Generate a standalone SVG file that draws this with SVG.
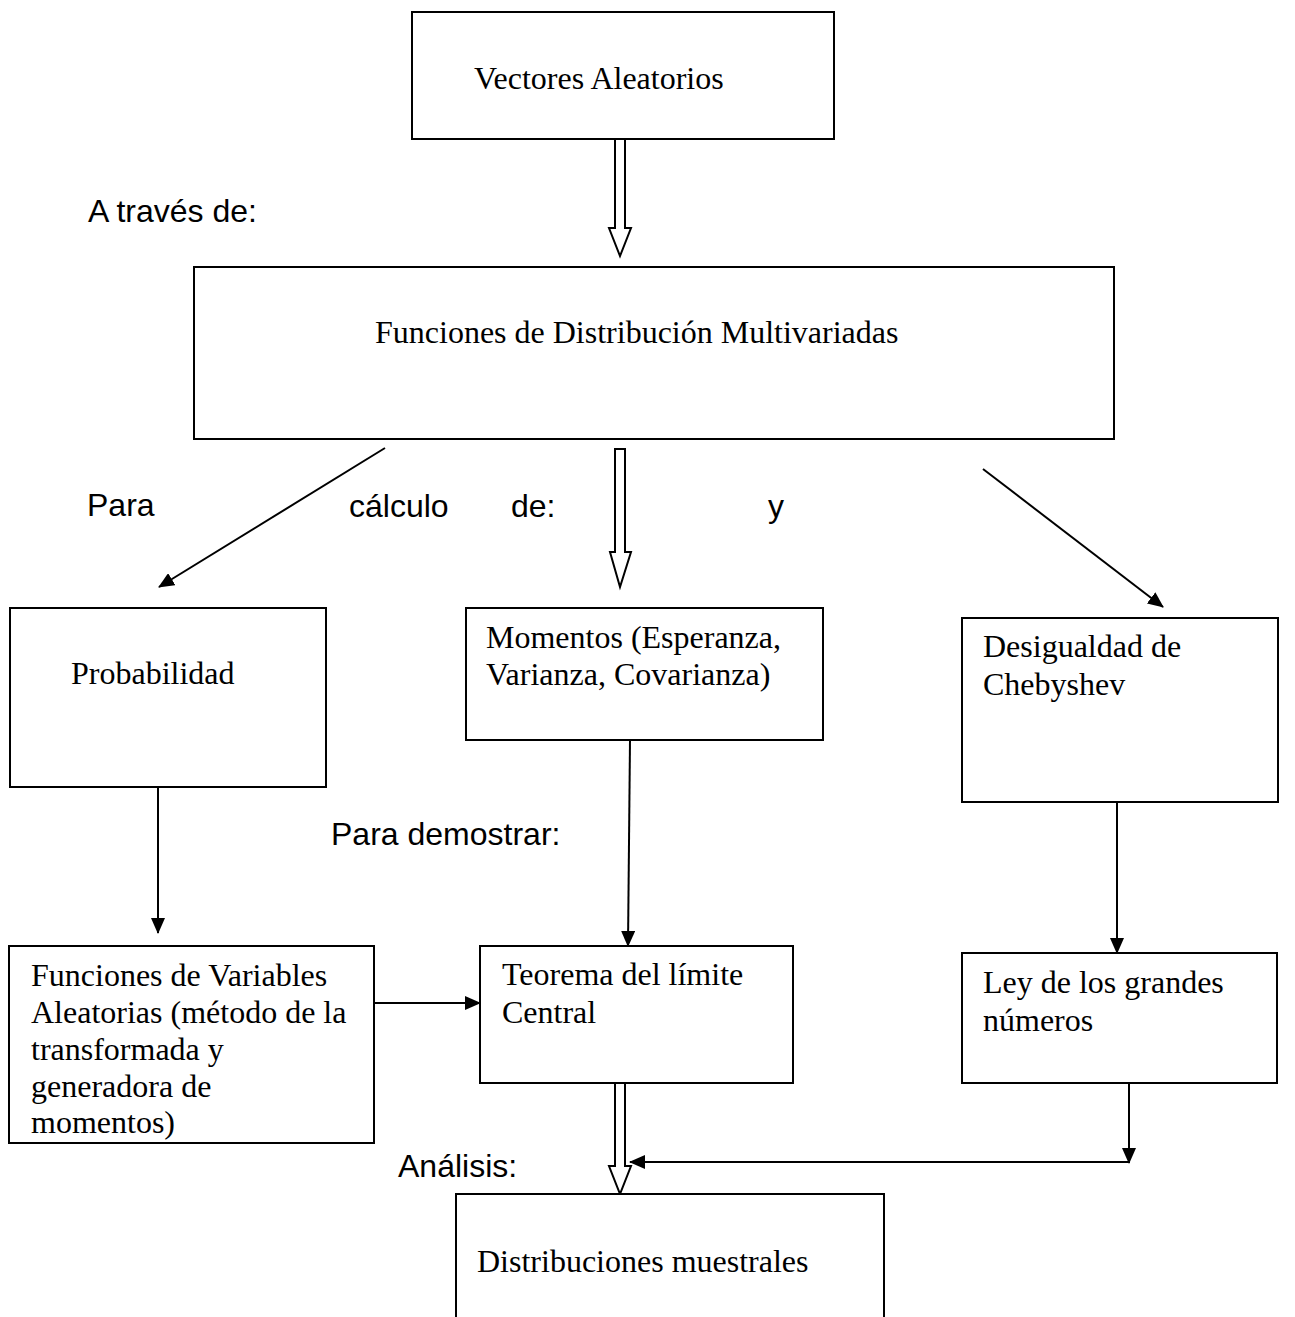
<svg xmlns="http://www.w3.org/2000/svg" width="1295" height="1317" viewBox="0 0 1295 1317">
<style>
.box{fill:#fff;stroke:#000;stroke-width:2}
.t{font-family:"Liberation Serif","Times New Roman",serif;font-size:32px;fill:#000}
.l{font-family:"Liberation Sans",Arial,sans-serif;font-size:32px;fill:#000}
.c{stroke:#000;stroke-width:2;fill:none}
.h{fill:#fff;stroke:#000;stroke-width:2;stroke-linejoin:miter}
</style>
<defs>
<marker id="ah" markerWidth="16" markerHeight="14" refX="15" refY="7" orient="auto" markerUnits="userSpaceOnUse">
<path d="M0,0 L16,7 L0,14 Z" fill="#000"/>
</marker>
</defs>
<rect width="1295" height="1317" fill="#fff"/>

<g id="labels">
<text class="l" x="88" y="222">A través de:</text>
<text class="l" x="87" y="516">Para</text>
<text class="l" x="349" y="517">cálculo</text>
<text class="l" x="511" y="517">de:</text>
<text class="l" x="768" y="517">y</text>
<text class="l" x="331" y="845">Para demostrar:</text>
<text class="l" x="398" y="1177">Análisis:</text>
</g>

<g id="connectors">
<path class="h" d="M615,139 V228 H609 L620,256 L631,228 H625 V139 Z"/>
<path class="h" d="M615,449 V552 H610 L620,587 L631,552 H625 V449 Z"/>
<path class="h" d="M615,1083 V1166 H609 L620,1194 L631,1166 H625 V1083 Z"/>
<line class="c" x1="385" y1="448" x2="159" y2="587" marker-end="url(#ah)"/>
<line class="c" x1="983" y1="469" x2="1163" y2="607" marker-end="url(#ah)"/>
<line class="c" x1="158" y1="787" x2="158" y2="933" marker-end="url(#ah)"/>
<line class="c" x1="630" y1="740" x2="628" y2="946" marker-end="url(#ah)"/>
<line class="c" x1="1117" y1="802" x2="1117" y2="953" marker-end="url(#ah)"/>
<line class="c" x1="374" y1="1003" x2="480" y2="1003" marker-end="url(#ah)"/>
<line class="c" x1="1129" y1="1083" x2="1129" y2="1163" marker-end="url(#ah)"/>
<line class="c" x1="1130" y1="1162" x2="630" y2="1162" marker-end="url(#ah)"/>
</g>

<g id="n-vectores">
<rect class="box" x="412" y="12" width="422" height="127"/>
<text class="t" x="474" y="89">Vectores Aleatorios</text>
</g>
<g id="n-funciones-dist">
<rect class="box" x="194" y="267" width="920" height="172"/>
<text class="t" x="375" y="343">Funciones de Distribución Multivariadas</text>
</g>
<g id="n-probabilidad">
<rect class="box" x="10" y="608" width="316" height="179"/>
<text class="t" x="71" y="684">Probabilidad</text>
</g>
<g id="n-momentos">
<rect class="box" x="466" y="608" width="357" height="132"/>
<text class="t" x="486" y="648">Momentos (Esperanza,</text>
<text class="t" x="486" y="685">Varianza, Covarianza)</text>
</g>
<g id="n-desigualdad">
<rect class="box" x="962" y="618" width="316" height="184"/>
<text class="t" x="983" y="657">Desigualdad de</text>
<text class="t" x="983" y="695">Chebyshev</text>
</g>
<g id="n-funciones-va">
<rect class="box" x="9" y="946" width="365" height="197"/>
<text class="t" x="31" y="986">Funciones de Variables</text>
<text class="t" x="31" y="1023">Aleatorias (método de la</text>
<text class="t" x="31" y="1060">transformada y</text>
<text class="t" x="31" y="1097">generadora de</text>
<text class="t" x="31" y="1133">momentos)</text>
</g>
<g id="n-teorema">
<rect class="box" x="480" y="946" width="313" height="137"/>
<text class="t" x="502" y="985">Teorema del límite</text>
<text class="t" x="502" y="1023">Central</text>
</g>
<g id="n-ley">
<rect class="box" x="962" y="953" width="315" height="130"/>
<text class="t" x="983" y="993">Ley de los grandes</text>
<text class="t" x="983" y="1031">números</text>
</g>
<g id="n-distribuciones">
<rect class="box" x="456" y="1194" width="428" height="140"/>
<text class="t" x="477" y="1272">Distribuciones muestrales</text>
</g>
</svg>
